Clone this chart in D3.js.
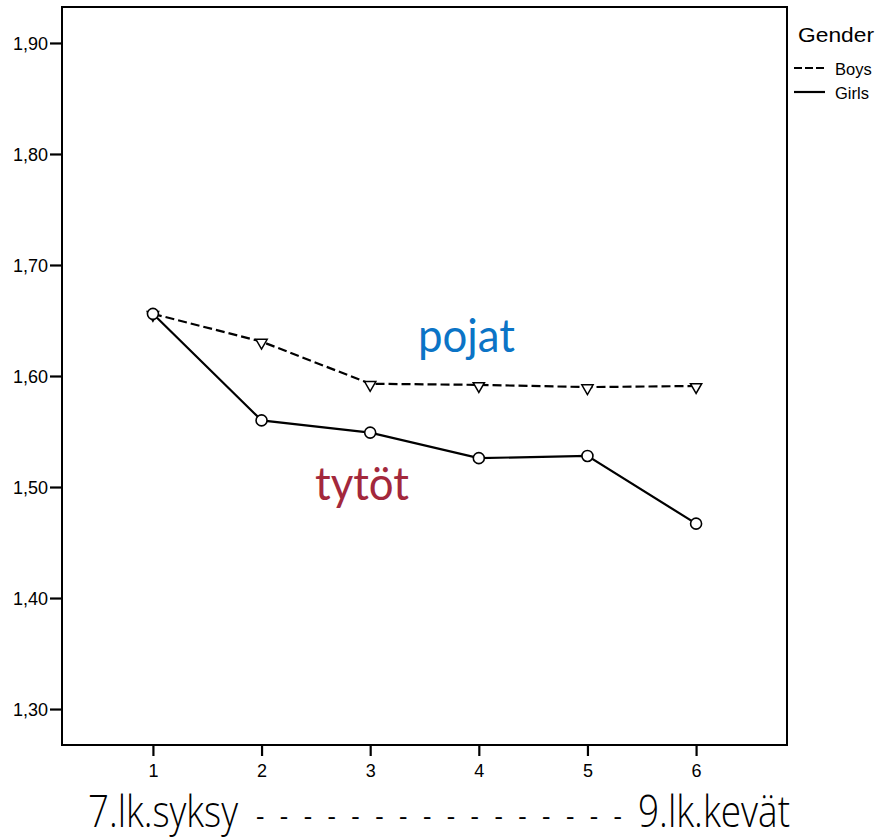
<!DOCTYPE html>
<html><head><meta charset="utf-8">
<script src="https://cdn.jsdelivr.net/npm/d3@7"></script>
<style>body{margin:0;background:#fff}svg{display:block}</style>
</head><body>
<svg id="c" width="881" height="838"></svg>
<script>
const timepoints = [1, 2, 3, 4, 5, 6];
const boys = [1.656, 1.631, 1.593, 1.592, 1.590, 1.591];
const girls = [1.656, 1.560, 1.549, 1.526, 1.528, 1.467];
const yTicks = [1.30, 1.40, 1.50, 1.60, 1.70, 1.80, 1.90];
const legendTitle = "Gender";
const seriesNames = ["Boys", "Girls"];
const startLabel = "7.lk.syksy";
const endLabel = "9.lk.kevät";

const svg = d3.select("#c");
const L = 62, R = 787, T = 7, B = 745;
const x = d3.scaleLinear().domain([0.163, 6.837]).range([L, R]);
const y = d3.scaleLinear().domain([1.2676, 1.9324]).range([B, T]);
const font = "Arial, 'Liberation Sans', sans-serif";

svg.append("rect").attr("x", L).attr("y", T).attr("width", R - L).attr("height", B - T)
  .attr("fill", "none").attr("stroke", "#000").attr("stroke-width", 2);

const fmt = d => d.toFixed(2).replace(".", ",");
const ya = svg.append("g").attr("transform", `translate(${L},0)`)
  .call(d3.axisLeft(y).tickValues(yTicks).tickFormat(fmt).tickSize(12).tickSizeOuter(0));
ya.select(".domain").remove();
ya.selectAll("line").attr("stroke-width", 2.2);
ya.selectAll("text").attr("font-family", font).attr("font-size", 18).attr("fill", "#000")
  .attr("x", -14).attr("dy", "0.35em");

const xa = svg.append("g").attr("transform", `translate(0,${B})`)
  .call(d3.axisBottom(x).tickValues(timepoints).tickFormat(d3.format("d")).tickSize(11).tickSizeOuter(0));
xa.select(".domain").remove();
xa.selectAll("line").attr("stroke-width", 2.2);
xa.selectAll("text").attr("font-family", font).attr("font-size", 18).attr("fill", "#000")
  .attr("y", 32).attr("dy", null);

const line = d3.line().x((d, i) => x(timepoints[i])).y(d => y(d));
svg.append("path").datum(boys).attr("d", line).attr("fill", "none").attr("stroke", "#000")
  .attr("stroke-width", 2.2).attr("stroke-dasharray", "9,4");
svg.append("path").datum(girls).attr("d", line).attr("fill", "none").attr("stroke", "#000")
  .attr("stroke-width", 2.2);

const tri = d3.symbol().type(d3.symbolTriangle).size(55);
svg.selectAll(".tri").data(boys).enter().append("path")
  .attr("d", tri)
  .attr("transform", (d, i) => `translate(${x(timepoints[i])},${y(d) + 1}) rotate(180)`)
  .attr("fill", "#fff").attr("stroke", "#000").attr("stroke-width", 1.5);
svg.selectAll(".circ").data(girls).enter().append("circle")
  .attr("cx", (d, i) => x(timepoints[i])).attr("cy", d => y(d)).attr("r", 5.5)
  .attr("fill", "#fff").attr("stroke", "#000").attr("stroke-width", 1.6);

// Legend
svg.append("text").attr("x", 798).attr("y", 42).text(legendTitle)
  .attr("font-family", font).attr("font-size", 20).attr("fill", "#000")
  .attr("textLength", 76).attr("lengthAdjust", "spacingAndGlyphs");
svg.append("line").attr("x1", 794).attr("x2", 825).attr("y1", 68).attr("y2", 68)
  .attr("stroke", "#000").attr("stroke-width", 2).attr("stroke-dasharray", "8,3");
svg.append("text").attr("x", 835).attr("y", 75).text(seriesNames[0])
  .attr("font-family", font).attr("font-size", 16.5).attr("fill", "#000");
svg.append("line").attr("x1", 794).attr("x2", 825).attr("y1", 92).attr("y2", 92)
  .attr("stroke", "#000").attr("stroke-width", 2.2);
svg.append("text").attr("x", 835).attr("y", 99).text(seriesNames[1])
  .attr("font-family", font).attr("font-size", 16.5).attr("fill", "#000");

// Annotations
const afont = "Lato, 'Open Sans', sans-serif";
svg.append("text").attr("x", 418).attr("y", 352).text("pojat")
  .attr("font-family", afont).attr("font-size", 46).attr("fill", "#0b74c6")
  .attr("textLength", 97).attr("lengthAdjust", "spacingAndGlyphs");
svg.append("text").attr("x", 315).attr("y", 500).text("tytöt")
  .attr("font-family", afont).attr("font-size", 46).attr("fill", "#a3283c")
  .attr("textLength", 94).attr("lengthAdjust", "spacingAndGlyphs");

const bfont = "'Open Sans', Lato, sans-serif";
svg.append("text").attr("x", 88).attr("y", 827).text(startLabel)
  .attr("font-family", bfont).attr("font-weight", 350).attr("font-size", 44).attr("fill", "#000")
  .attr("textLength", 150).attr("lengthAdjust", "spacingAndGlyphs");
svg.append("text").attr("x", 256).attr("y", 825).text("- - - - - - - - - - - - - - - -")
  .attr("font-family", bfont).attr("font-weight", 500).attr("font-size", 26).attr("fill", "#000")
  .attr("textLength", 366).attr("lengthAdjust", "spacing");
svg.append("text").attr("x", 638).attr("y", 827).text(endLabel)
  .attr("font-family", bfont).attr("font-weight", 350).attr("font-size", 44).attr("fill", "#000")
  .attr("textLength", 152).attr("lengthAdjust", "spacingAndGlyphs");
</script>
</body></html>
